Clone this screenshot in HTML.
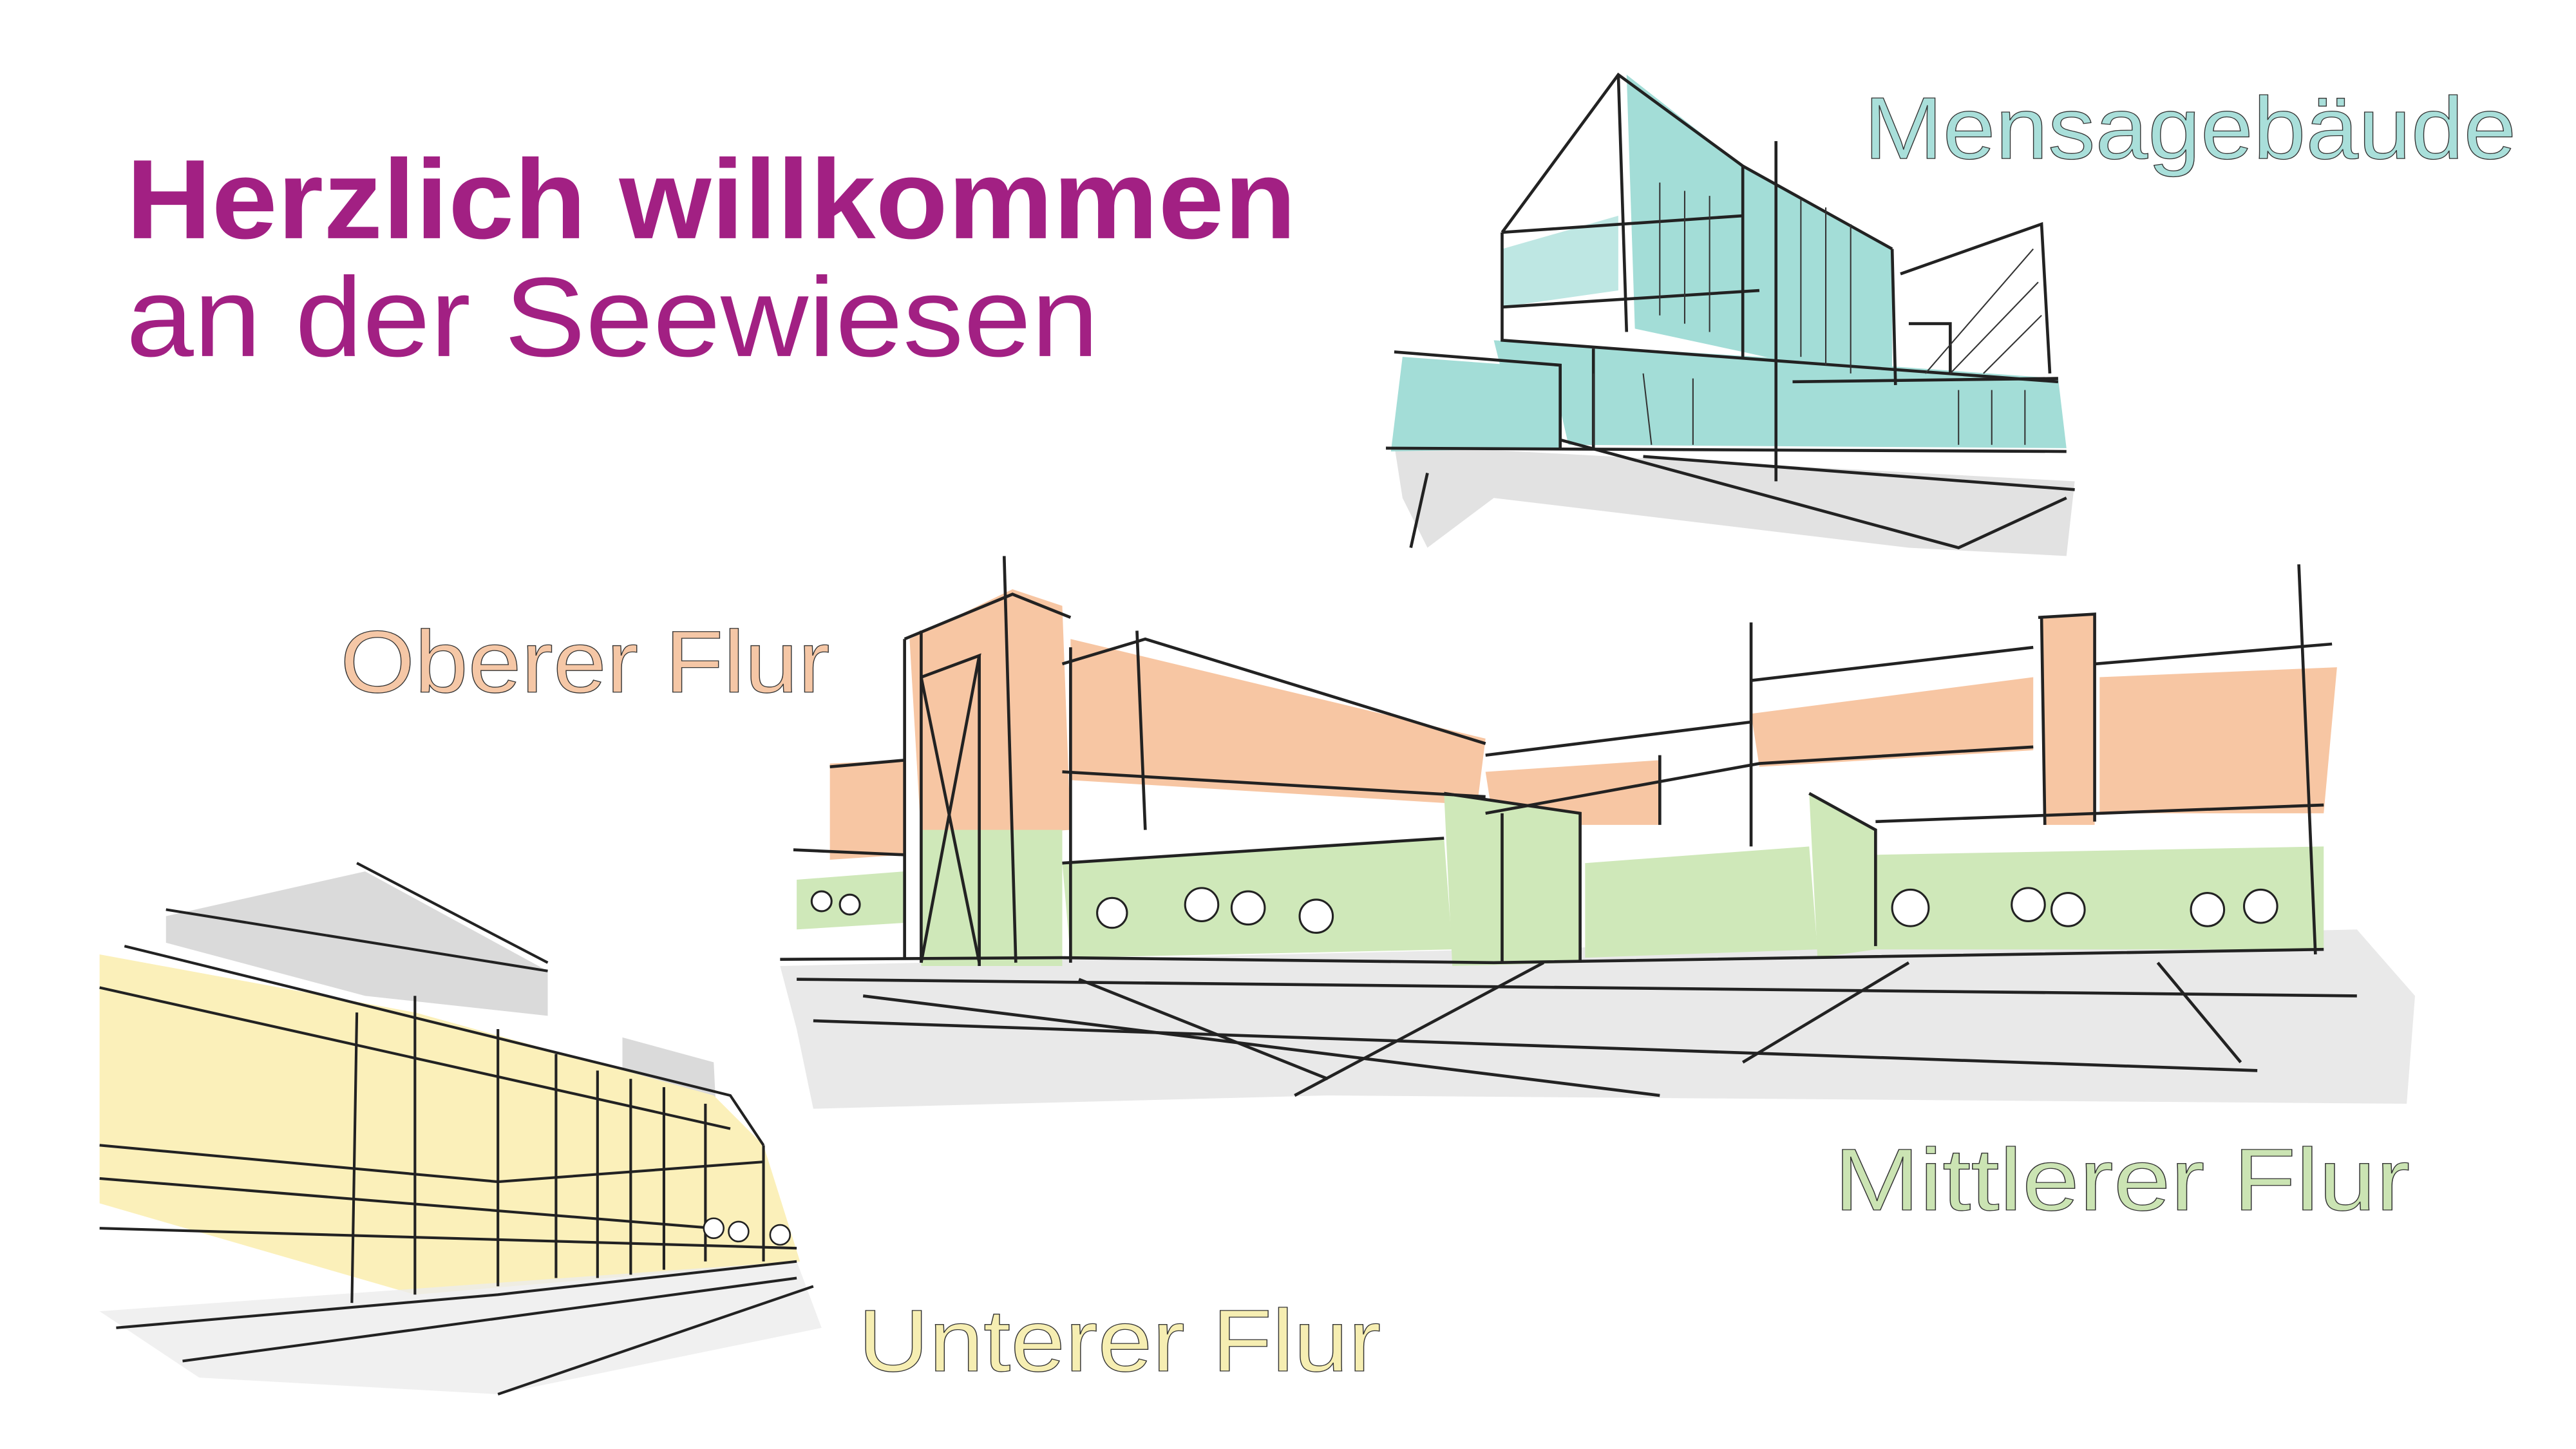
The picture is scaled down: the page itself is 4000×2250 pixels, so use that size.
<!DOCTYPE html>
<html><head><meta charset="utf-8"><style>
html,body{margin:0;padding:0;background:#fff;}
svg{display:block;}
</style></head><body>
<svg width="4000" height="2250" viewBox="0 0 1552 873" xmlns="http://www.w3.org/2000/svg">
<rect width="1552" height="873" fill="#fff"/>
<g font-family="Liberation Sans, DejaVu Sans, sans-serif">
<text x="76" y="143.5" font-size="68" font-weight="bold" fill="#A22083" textLength="705" lengthAdjust="spacingAndGlyphs">Herzlich willkommen</text>
<text x="76" y="214.5" font-size="68" fill="#A22083" textLength="586" lengthAdjust="spacingAndGlyphs">an der Seewiesen</text>
<text x="1123" y="95.5" font-size="53" fill="#A9DFDA" stroke="#333" stroke-width="0.5" textLength="393" lengthAdjust="spacingAndGlyphs">Mensagebäude</text>
<text x="205" y="417" font-size="53" fill="#F5C7A6" stroke="#333" stroke-width="0.5" textLength="295" lengthAdjust="spacingAndGlyphs">Oberer Flur</text>
<text x="1105" y="729" font-size="53" fill="#CBE4B3" stroke="#333" stroke-width="0.5" textLength="347" lengthAdjust="spacingAndGlyphs">Mittlerer Flur</text>
<text x="517" y="826" font-size="53" fill="#F6EEB2" stroke="#333" stroke-width="0.5" textLength="315" lengthAdjust="spacingAndGlyphs">Unterer Flur</text>
</g>

<!-- Mensa -->
<g>
<polygon points="840,268 1250,290 1245,335 1150,330 900,300 860,330 845,300" fill="#e2e2e2"/>
<polygon points="980,45 1050,100 1050,212 985,198" fill="#A3DDD7"/>
<polygon points="1050,100 1140,150 1140,232 1050,212" fill="#A3DDD7"/>
<polygon points="900,205 1060,215 1240,228 1245,270 945,268 935,225 905,225" fill="#A3DDD7"/>
<polygon points="845,215 940,222 940,270 838,272" fill="#A3DDD7"/>
<polygon points="905,150 975,130 975,175 905,185" fill="#A3DDD7" opacity="0.7"/>
<g stroke="#222" stroke-width="1.8" fill="none">
<polyline points="905,140 975,45 1050,100 1140,150"/>
<polyline points="975,45 980,200"/>
<polyline points="1050,100 1050,215"/>
<polyline points="1070,85 1070,290"/>
<polyline points="1140,150 1142,232"/>
<polyline points="905,140 905,205 1240,230"/>
<polyline points="905,185 1060,175"/>
<polyline points="905,140 1050,130"/>
<polyline points="1145,165 1230,135 1235,225"/>
<polyline points="840,212 940,220 940,270"/>
<polyline points="835,270 1245,272"/>
<polyline points="860,285 850,330"/>
<polyline points="940,265 1180,330 1245,300"/>
<polyline points="990,275 1250,295"/>
<polyline points="1080,230 1240,228"/>
<polyline points="960,210 960,270"/>
<polyline points="1150,195 1175,195 1175,225"/>
</g>
<g stroke="#333" stroke-width="0.8" fill="none">
<polyline points="1000,110 1000,190"/><polyline points="1015,115 1015,195"/><polyline points="1030,118 1030,200"/>
<polyline points="1085,120 1085,215"/><polyline points="1100,125 1100,220"/><polyline points="1115,135 1115,225"/>
<polyline points="1160,225 1225,150"/><polyline points="1175,225 1228,170"/><polyline points="1195,225 1230,190"/>
<polyline points="1180,235 1180,268"/><polyline points="1200,235 1200,268"/><polyline points="1220,235 1220,268"/>
<polyline points="960,225 960,268"/><polyline points="990,225 995,268"/><polyline points="1020,228 1020,268"/>
</g>
</g>

<!-- Middle building -->
<g>
<polygon points="470,582 1420,560 1455,600 1450,665 800,660 490,668 480,620" fill="#e9e9e9"/>
<polygon points="500,460 545,458 545,515 500,518" fill="#F7C6A3"/>
<polygon points="548,385 610,355 640,365 645,500 555,505" fill="#F7C6A3"/>
<polygon points="645,385 895,445 890,485 645,470" fill="#F7C6A3"/>
<polygon points="895,465 1000,458 1000,497 900,497" fill="#F7C6A3"/>
<polygon points="1055,430 1225,408 1225,452 1060,462" fill="#F7C6A3"/>
<polygon points="1230,372 1262,370 1262,497 1232,497" fill="#F7C6A3"/>
<polygon points="1265,408 1408,402 1400,490 1265,490" fill="#F7C6A3"/>
<polygon points="480,530 545,525 545,556 480,560" fill="#CFE8B9"/>
<polygon points="555,500 640,500 640,582 555,582" fill="#CFE8B9"/>
<polygon points="640,520 870,505 875,572 645,577" fill="#CFE8B9"/>
<polygon points="870,478 952,490 952,580 875,582" fill="#CFE8B9"/>
<polygon points="955,520 1090,510 1095,572 955,577" fill="#CFE8B9"/>
<polygon points="1090,478 1130,500 1130,572 1095,577" fill="#CFE8B9"/>
<polygon points="1130,515 1400,510 1400,572 1130,572" fill="#CFE8B9"/>
<g stroke="#222" stroke-width="1.8" fill="none">
<polyline points="545,385 610,358 645,372"/>
<polyline points="545,385 545,578"/>
<polyline points="555,380 555,580"/>
<polyline points="590,395 590,582"/>
<polyline points="555,408 590,395 555,580"/>
<polyline points="555,408 590,580"/>
<polyline points="605,335 612,580"/>
<polyline points="645,390 645,580"/>
<polyline points="685,380 690,500"/>
<polyline points="640,400 690,385 895,448"/>
<polyline points="640,465 895,480"/>
<polyline points="640,520 870,505"/>
<polyline points="500,462 545,458"/>
<polyline points="478,512 545,515"/>
<polyline points="470,578 640,577 900,580 1400,572"/>
<polyline points="895,455 1055,435"/>
<polyline points="895,490 1060,460 1225,450"/>
<polyline points="1055,375 1055,510"/>
<polyline points="1055,410 1225,390"/>
<polyline points="1228,372 1262,370 1262,495"/>
<polyline points="1230,372 1232,497"/>
<polyline points="1262,400 1405,388"/>
<polyline points="1130,495 1400,485"/>
<polyline points="1385,340 1395,575"/>
<polyline points="870,478 952,490 952,580"/>
<polyline points="905,490 905,580"/>
<polyline points="1090,478 1130,500 1130,570"/>
<polyline points="1000,455 1000,497"/>
<polyline points="480,590 1420,600"/>
<polyline points="490,615 1360,645"/>
<polyline points="520,600 1000,660"/>
<polyline points="650,590 800,650"/>
<polyline points="930,580 780,660"/>
<polyline points="1150,580 1050,640"/>
<polyline points="1300,580 1350,640"/>
</g>
<g fill="#fff" stroke="#222" stroke-width="1.2">
<circle cx="670" cy="550" r="9"/><circle cx="724" cy="545" r="10"/><circle cx="752" cy="547" r="10"/><circle cx="793" cy="552" r="10"/>
<circle cx="1151" cy="547" r="11"/><circle cx="1222" cy="545" r="10"/><circle cx="1246" cy="548" r="10"/><circle cx="1330" cy="548" r="10"/><circle cx="1362" cy="546" r="10"/>
<circle cx="495" cy="543" r="6"/><circle cx="512" cy="545" r="6"/>
</g>
</g>

<!-- Lower left -->
<g>
<polygon points="100,552 220,525 330,585 330,612 220,600 100,568" fill="#dadada"/>
<polygon points="375,625 430,640 432,680 375,660" fill="#dadada"/>
<polygon points="60,575 250,610 430,660 460,690 482,760 250,780 60,725" fill="#FBF0BA"/>
<polygon points="60,790 480,760 495,800 300,840 120,830" fill="#ececec" opacity="0.8"/>
<g stroke="#222" stroke-width="1.6" fill="none">
<polyline points="100,548 330,585"/>
<polyline points="215,520 330,580"/>
<polyline points="75,570 440,660 460,690"/>
<polyline points="60,595 440,680"/>
<polyline points="60,690 300,712 460,700"/>
<polyline points="60,710 430,740"/>
<polyline points="70,800 300,780 480,760"/>
<polyline points="250,600 250,780"/>
<polyline points="215,610 212,785"/>
<polyline points="300,620 300,775"/>
<polyline points="335,635 335,770"/>
<polyline points="360,645 360,770"/>
<polyline points="380,650 380,768"/>
<polyline points="400,655 400,765"/>
<polyline points="425,665 425,760"/>
<polyline points="460,690 460,760"/>
<polyline points="60,740 480,752"/>
<polyline points="110,820 480,770"/>
<polyline points="300,840 490,775"/>
</g>
<g fill="#fff" stroke="#222" stroke-width="1"><circle cx="430" cy="740" r="6"/><circle cx="445" cy="742" r="6"/><circle cx="470" cy="744" r="6"/></g>
</g>
</svg>
</body></html>
